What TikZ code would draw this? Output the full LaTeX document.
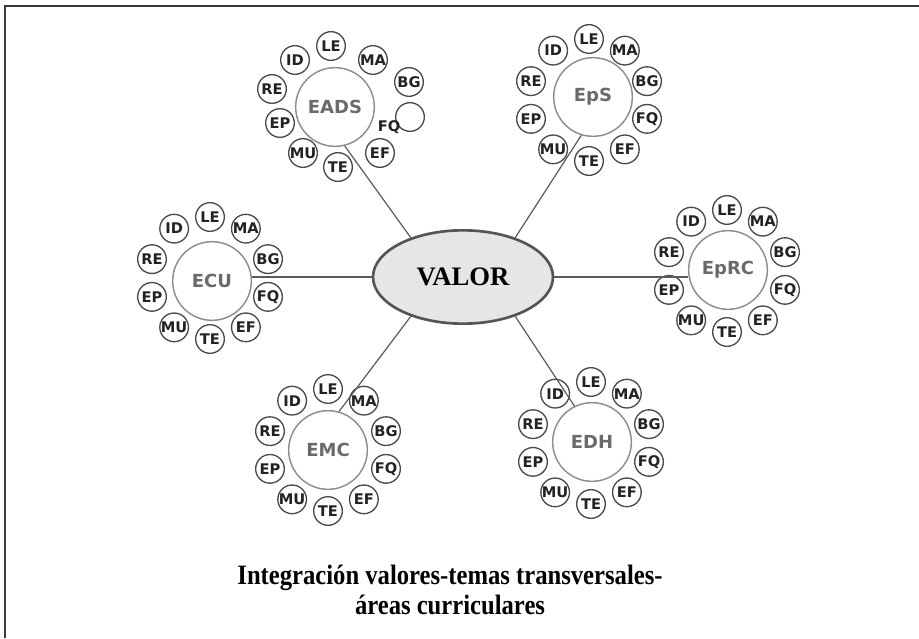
\documentclass[tikz,border=0pt]{standalone}
\usepackage{fontspec}
\usepackage{graphicx}
\setmainfont{Liberation Serif}
\newfontfamily\lblfont{DejaVu Sans}
\usetikzlibrary{shapes.geometric}
\definecolor{framec}{HTML}{3A3A3A}
\definecolor{linec}{HTML}{5A5A5A}
\definecolor{bigline}{HTML}{8E8E8E}
\definecolor{bigtext}{HTML}{6A6A6A}
\definecolor{smallline}{HTML}{4A4A4A}
\definecolor{smalltext}{HTML}{222222}
\definecolor{valfill}{HTML}{E6E6E6}
\definecolor{valline}{HTML}{555555}
\tikzset{
  bigc/.style={circle, draw=bigline, line width=1.1pt, minimum size=59pt, inner sep=0pt,
    text=bigtext, font=\lblfont\bfseries\fontsize{13.5}{13.5}\selectfont},
  smallc/.style={circle, draw=smallline, line width=1pt, minimum size=21.5pt, inner sep=0pt,
    text=smalltext, font=\lblfont\bfseries\fontsize{11}{11}\selectfont},
  plainlbl/.style={inner sep=0pt, text=smalltext, font=\lblfont\bfseries\fontsize{11}{11}\selectfont},
  conn/.style={draw=linec, line width=0.9pt},
  framel/.style={draw=framec, line width=1.8pt}
}
\newcommand{\mkcluster}[6]{%
  \node[bigc] (#1) at (#3,#4) {#2};
  \foreach \lab [count=\i from 0] in {LE,MA,BG,FQ,EF,TE,MU,EP,RE,ID} {
    \node[smallc] (#1-\lab) at ({#5+61*cos(90-36*\i)},{#6-61*sin(90-36*\i)}) {\lab};
  }
}
\begin{document}
\begin{tikzpicture}[x=0.75pt,y=-0.75pt]
\useasboundingbox (0,0) rectangle (919,638);
% frame
\coordinate (ftl) at (5,6);
\coordinate (ftr) at (919,6);
\coordinate (fbl) at (5,638);
\draw[framel] (ftr) -- (ftl) -- (fbl);

% center
\node[ellipse, draw=valline, line width=2pt, fill=valfill, minimum width=135pt,
  minimum height=70pt, inner sep=0pt, font=\bfseries\fontsize{20}{20}\selectfont] (valor) at (463,277) {VALOR};

% EADS (irregular)
\node[bigc] (eads) at (335,107) {EADS};
\node[smallc] (eads-LE) at (331,46) {LE};
\node[smallc] (eads-MA) at (373,60) {MA};
\node[smallc] (eads-BG) at (409,82) {BG};
\node[smallc] (eads-empty) at (410,117) {};
\node[plainlbl] (eads-FQ) at (389,127) {FQ};
\node[smallc] (eads-EF) at (380,153) {EF};
\node[smallc] (eads-TE) at (338,167) {TE};
\node[smallc] (eads-MU) at (303,153) {MU};
\node[smallc] (eads-EP) at (280,123) {EP};
\node[smallc] (eads-RE) at (272,89) {RE};
\node[smallc] (eads-ID) at (295,60) {ID};

% regular clusters
\mkcluster{eps}{EpS}{593}{97}{589}{100}
\mkcluster{ecu}{ECU}{212}{281}{210}{278}
\mkcluster{eprc}{EpRC}{728}{270}{727}{271}
\mkcluster{emc}{EMC}{328}{450}{328}{450}
\mkcluster{edh}{EDH}{592}{442}{591}{443}

% connectors
\draw[conn] (valor.143) -- (eads.-76);
\draw[conn] (valor.37) -- (eps.-107);
\draw[conn] (valor.217) -- (emc.74);
\draw[conn] (valor.-37) -- (edh.116);
\draw[conn] (valor.west) -- (valor.west -| ecu.east);
\draw[conn] (valor.east) -- (valor.east -| eprc.west);

% caption
\node[align=center, font=\bfseries\fontsize{21}{23}\selectfont] (caption) at (450,590)
  {\scalebox{0.88}[1]{Integración valores-temas transversales-}\\\scalebox{0.88}[1]{áreas curriculares}};
\end{tikzpicture}
\end{document}
